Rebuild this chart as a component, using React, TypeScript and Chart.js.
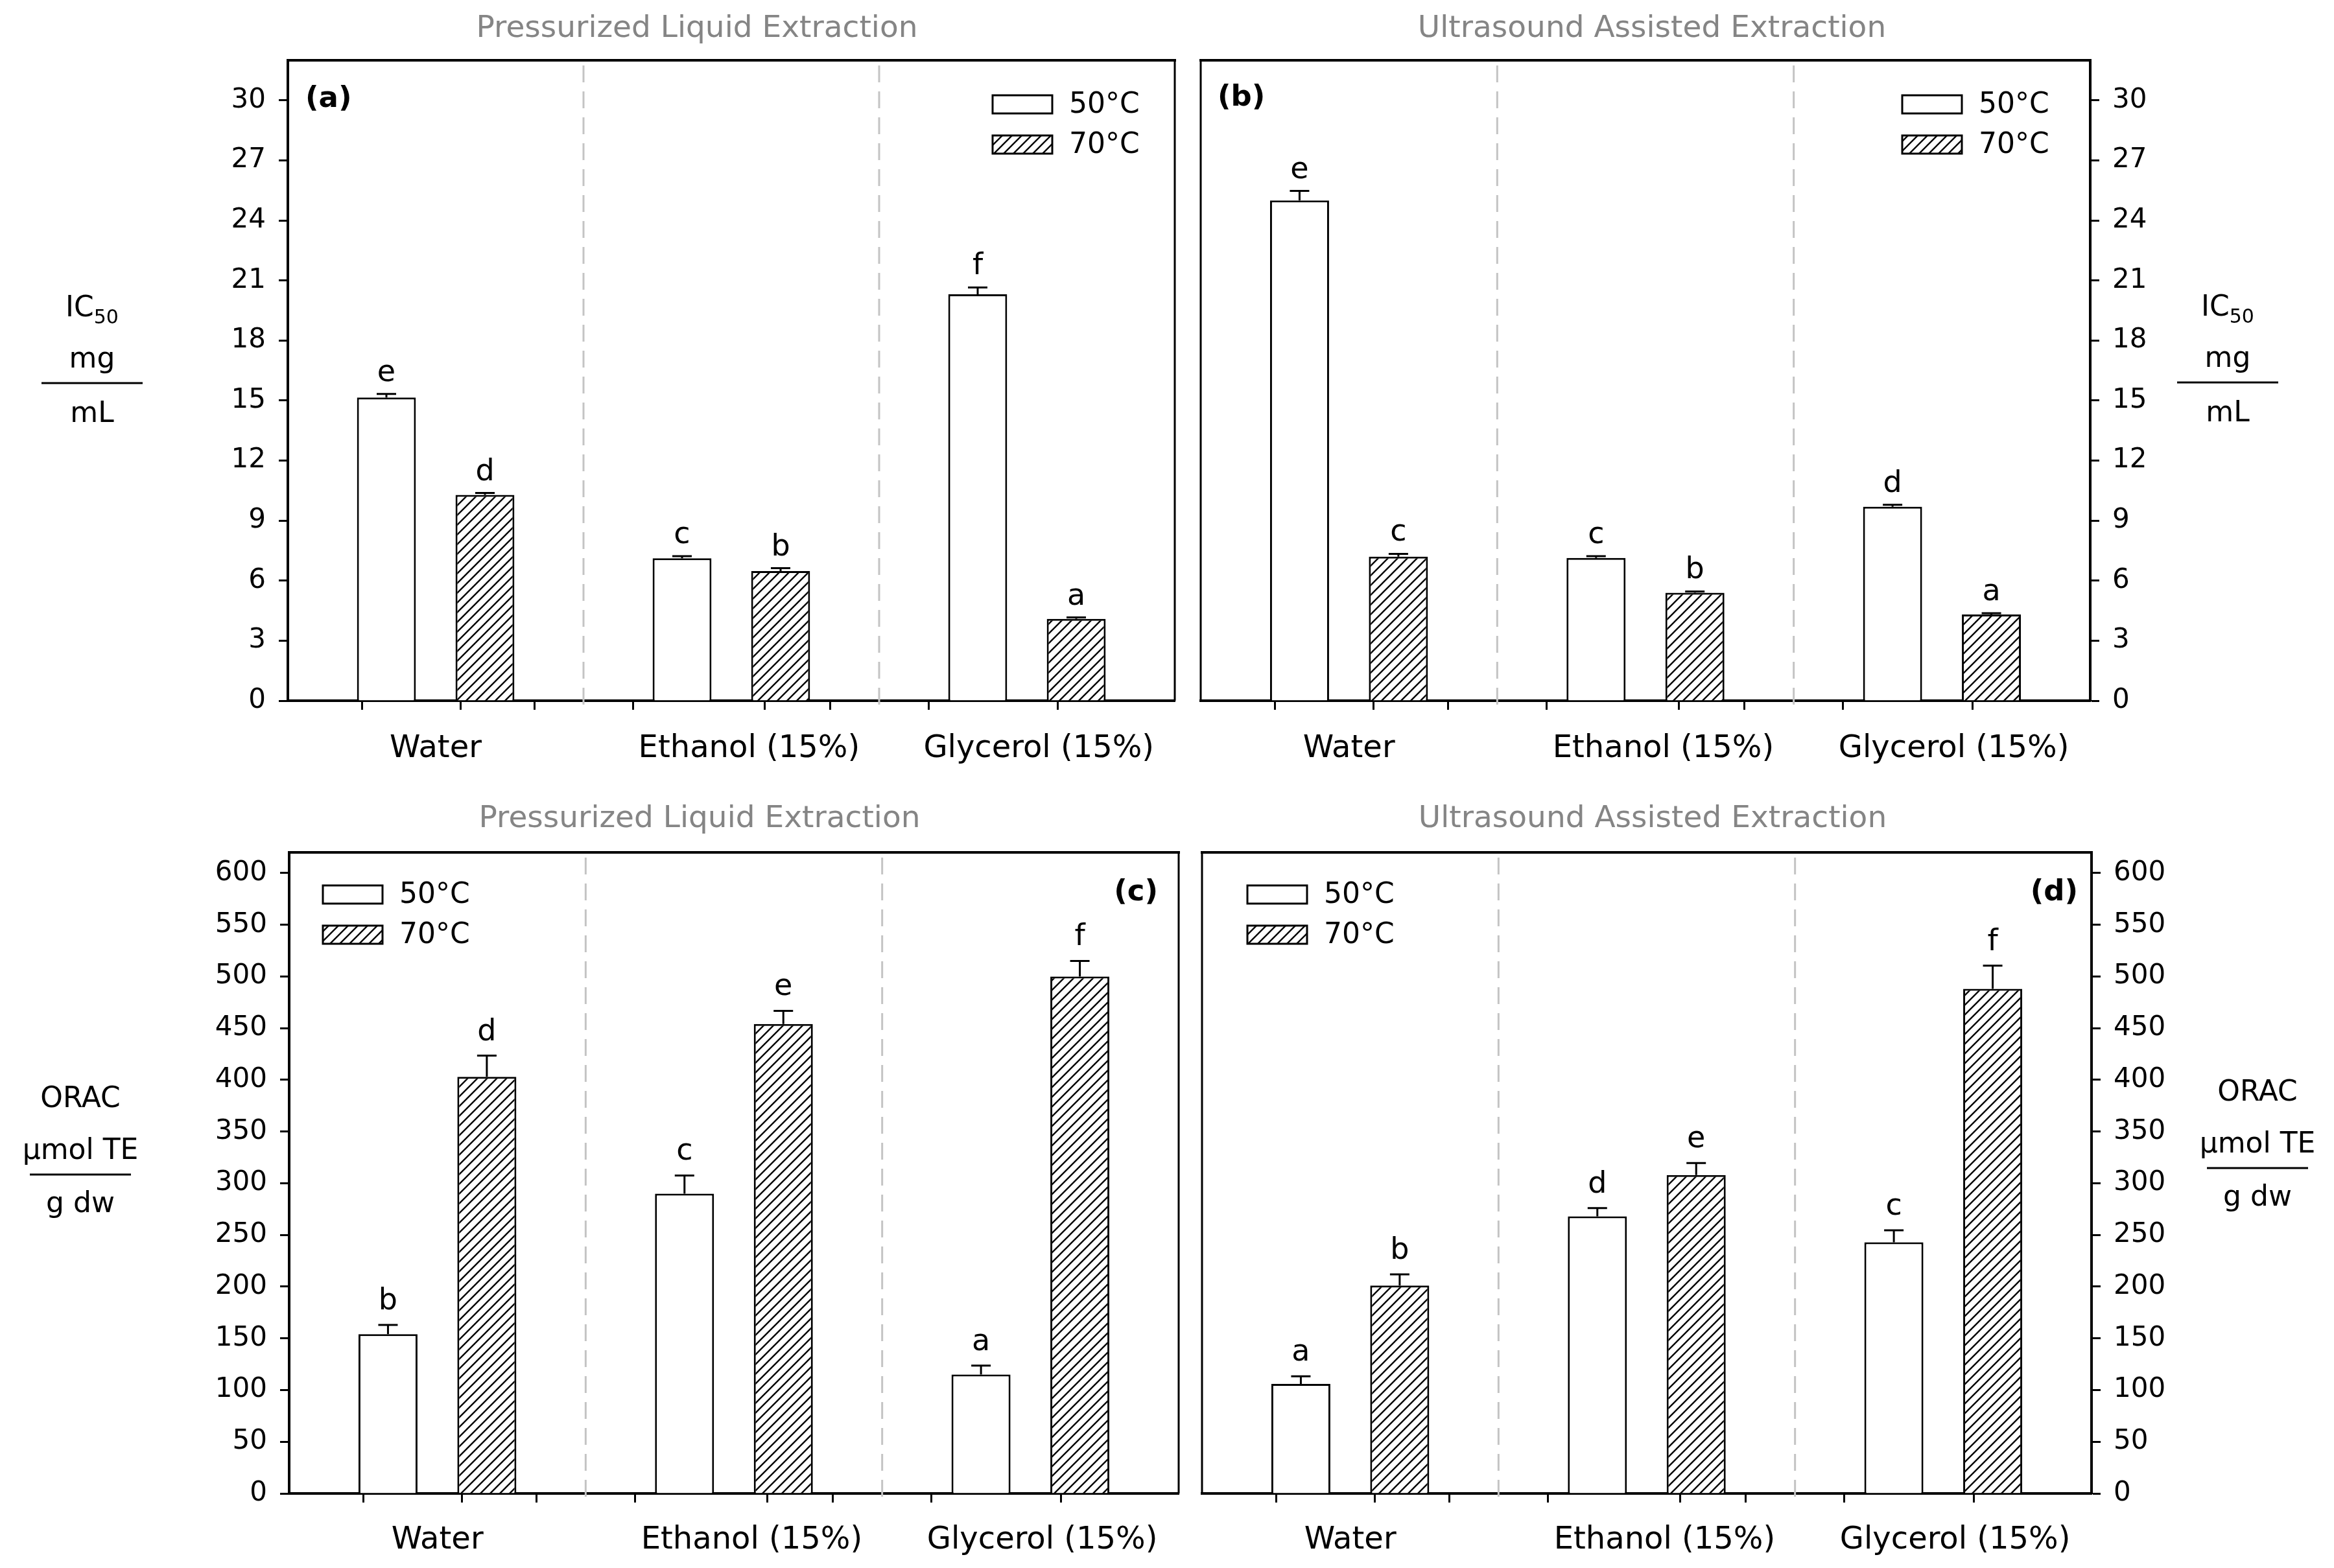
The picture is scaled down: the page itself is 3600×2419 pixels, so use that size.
import React, { useEffect, useRef } from 'react';
import { Chart, registerables } from 'chart.js';

Chart.register(...registerables);

// ---------------- data ----------------
const CATEGORIES = ['Water', 'Ethanol (15%)', 'Glycerol (15%)'];
const SERIES = ['50°C', '70°C'];

const IC50_TICKS = [0, 3, 6, 9, 12, 15, 18, 21, 24, 27, 30];
const ORAC_TICKS = [0, 50, 100, 150, 200, 250, 300, 350, 400, 450, 500, 550, 600];

// (a) IC50, Pressurized Liquid Extraction
const PLE_IC50_50 = [15.15, 7.12, 20.31];
const PLE_IC50_70 = [10.28, 6.48, 4.09];
const PLE_IC50_50_SD = [0.18, 0.1, 0.34];
const PLE_IC50_70_SD = [0.1, 0.14, 0.07];
const PLE_IC50_50_LET = ['e', 'c', 'f'];
const PLE_IC50_70_LET = ['d', 'b', 'a'];

// (b) IC50, Ultrasound Assisted Extraction
const UAE_IC50_50 = [25.0, 7.13, 9.69];
const UAE_IC50_70 = [7.2, 5.39, 4.31];
const UAE_IC50_50_SD = [0.47, 0.09, 0.1];
const UAE_IC50_70_SD = [0.14, 0.07, 0.06];
const UAE_IC50_50_LET = ['e', 'c', 'd'];
const UAE_IC50_70_LET = ['c', 'b', 'a'];

// (c) ORAC, Pressurized Liquid Extraction
const PLE_ORAC_50 = [154, 290, 115];
const PLE_ORAC_70 = [403, 454, 500];
const PLE_ORAC_50_SD = [9, 17.5, 8.6];
const PLE_ORAC_70_SD = [20.4, 12.8, 15];
const PLE_ORAC_50_LET = ['b', 'c', 'a'];
const PLE_ORAC_70_LET = ['d', 'e', 'f'];

// (d) ORAC, Ultrasound Assisted Extraction
const UAE_ORAC_50 = [106, 268, 243];
const UAE_ORAC_70 = [201, 308, 488];
const UAE_ORAC_50_SD = [7.3, 8, 11.5];
const UAE_ORAC_70_SD = [10.9, 11.5, 22.4];
const UAE_ORAC_50_LET = ['a', 'd', 'c'];
const UAE_ORAC_70_LET = ['b', 'e', 'f'];

// ---------------- layout ----------------
const FONT = '"DejaVu Sans", Verdana, sans-serif';
const f = (size: number, bold = false) => `${bold ? 'bold ' : ''}${size}px ${FONT}`;

type Panel = {
  key: string;
  left: number; top: number; w: number; h: number;
  area: { l: number; r: number; t: number; b: number };
  side: 'left' | 'right';
  yMax: number;
  yTicks: number[];
  v50: number[]; v70: number[]; sd50: number[]; sd70: number[];
  l50: string[]; l70: string[];
  title: string; titleX: number; titleY: number;
  tag: string; tagX: number; tagY: number; tagAlign: 'left' | 'right';
  legendX: number; legendY: number;
  yTitle: 'ic50' | 'orac'; yTitleX: number; yTitleY: number;
  letterGap: number;
  labelPad: number;
};

const PANELS: Panel[] = [
  {
    key: 'a', left: 0, top: 0, w: 1832, h: 1215,
    area: { l: 444, r: 1812, t: 93, b: 1081 }, side: 'left',
    yMax: 32, yTicks: IC50_TICKS,
    v50: PLE_IC50_50, v70: PLE_IC50_70, sd50: PLE_IC50_50_SD, sd70: PLE_IC50_70_SD,
    l50: PLE_IC50_50_LET, l70: PLE_IC50_70_LET,
    title: 'Pressurized Liquid Extraction', titleX: 1075, titleY: 45,
    tag: '(a)', tagX: 471, tagY: 153, tagAlign: 'left',
    legendX: 1531, legendY: 147,
    yTitle: 'ic50', yTitleX: 142, yTitleY: 591,
    letterGap: 20,
    labelPad: 32,
  },
  {
    key: 'b', left: 1832, top: 0, w: 1768, h: 1215,
    area: { l: 1852, r: 3224, t: 93, b: 1081 }, side: 'right',
    yMax: 32, yTicks: IC50_TICKS,
    v50: UAE_IC50_50, v70: UAE_IC50_70, sd50: UAE_IC50_50_SD, sd70: UAE_IC50_70_SD,
    l50: UAE_IC50_50_LET, l70: UAE_IC50_70_LET,
    title: 'Ultrasound Assisted Extraction', titleX: 2548, titleY: 45,
    tag: '(b)', tagX: 1878, tagY: 151, tagAlign: 'left',
    legendX: 2934, legendY: 147,
    yTitle: 'ic50', yTitleX: 3436, yTitleY: 590,
    letterGap: 20,
    labelPad: 32,
  },
  {
    key: 'c', left: 0, top: 1215, w: 1836, h: 1204,
    area: { l: 446, r: 1818, t: 1315, b: 2304 }, side: 'left',
    yMax: 620, yTicks: ORAC_TICKS,
    v50: PLE_ORAC_50, v70: PLE_ORAC_70, sd50: PLE_ORAC_50_SD, sd70: PLE_ORAC_70_SD,
    l50: PLE_ORAC_50_LET, l70: PLE_ORAC_70_LET,
    title: 'Pressurized Liquid Extraction', titleX: 1079, titleY: 1264,
    tag: '(c)', tagX: 1786, tagY: 1377, tagAlign: 'right',
    legendX: 498, legendY: 1366,
    yTitle: 'orac', yTitleX: 124, yTitleY: 1812,
    letterGap: 24,
    labelPad: 30,
  },
  {
    key: 'd', left: 1836, top: 1215, w: 1764, h: 1204,
    area: { l: 1854, r: 3226, t: 1315, b: 2304 }, side: 'right',
    yMax: 620, yTicks: ORAC_TICKS,
    v50: UAE_ORAC_50, v70: UAE_ORAC_70, sd50: UAE_ORAC_50_SD, sd70: UAE_ORAC_70_SD,
    l50: UAE_ORAC_50_LET, l70: UAE_ORAC_70_LET,
    title: 'Ultrasound Assisted Extraction', titleX: 2549, titleY: 1264,
    tag: '(d)', tagX: 3205, tagY: 1377, tagAlign: 'right',
    legendX: 1924, legendY: 1366,
    yTitle: 'orac', yTitleX: 3482, yTitleY: 1802,
    letterGap: 24,
    labelPad: 30,
  },
];

// x positions on the linear axis: group i occupies slots 3i+1 (50°C) and 3i+2 (70°C),
// separators at 3 and 6, axis from 0 to 9
const slot = (group: number, series: number) => group * 3 + 1 + series;
const SEPARATORS = CATEGORIES.slice(1).map((_, i) => (i + 1) * 3);
// category label anchors on the x axis (as placed in the original figure)
const LABEL_POS = [1.5, 4.68, 7.62];

function makeHatch(): CanvasPattern | string {
  const s = 15;
  const c = document.createElement('canvas');
  c.width = s; c.height = s;
  const g = c.getContext('2d');
  if (!g) return '#fff';
  g.fillStyle = '#fff';
  g.fillRect(0, 0, s, s);
  g.strokeStyle = '#000';
  g.lineWidth = 2.4;
  g.beginPath();
  g.moveTo(-2, s + 2); g.lineTo(s + 2, -2);
  g.moveTo(-s / 2 - 2, s / 2 + 2); g.lineTo(s / 2 + 2, -s / 2 - 2);
  g.moveTo(s / 2 - 2, s * 1.5 + 2); g.lineTo(s * 1.5 + 2, s / 2 - 2);
  g.stroke();
  const p = g.createPattern(c, 'repeat');
  return p || '#000';
}

function drawYTitle(ctx: CanvasRenderingContext2D, p: Panel) {
  const cx = p.yTitleX - p.left;
  const ly = p.yTitleY - p.top;
  ctx.save();
  ctx.fillStyle = '#000';
  ctx.textBaseline = 'alphabetic';
  if (p.yTitle === 'ic50') {
    ctx.font = f(44);
    const wIC = ctx.measureText('IC').width;
    ctx.font = f(30);
    const w50 = ctx.measureText('50').width;
    const x0 = cx - (wIC + w50) / 2;
    ctx.textAlign = 'left';
    ctx.font = f(44);
    ctx.fillText('IC', x0, ly - 103);
    ctx.font = f(30);
    ctx.fillText('50', x0 + wIC, ly - 92);
    ctx.textAlign = 'center';
    ctx.font = f(44);
    ctx.fillText('mg', cx, ly - 24);
    ctx.fillText('mL', cx, ly + 60);
  } else {
    ctx.textAlign = 'center';
    ctx.font = f(44);
    ctx.fillText('ORAC', cx, ly - 104);
    ctx.fillText('µmol TE', cx, ly - 24);
    ctx.fillText('g dw', cx, ly + 58);
  }
  ctx.strokeStyle = '#000';
  ctx.lineWidth = 3;
  ctx.beginPath();
  ctx.moveTo(cx - 78, ly);
  ctx.lineTo(cx + 78, ly);
  ctx.stroke();
  ctx.restore();
}

function buildChart(canvas: HTMLCanvasElement, p: Panel) {
  const hatch = makeHatch();
  const sd = [p.sd50, p.sd70];
  const letters = [p.l50, p.l70];
  const values = [p.v50, p.v70];

  const overlay = {
    id: 'overlay' + p.key,
    beforeDatasetsDraw(chart: any) {
      const { ctx, chartArea } = chart;
      const xs = chart.scales.x;
      ctx.save();
      ctx.strokeStyle = '#c4c4c4';
      ctx.lineWidth = 3;
      ctx.setLineDash([26, 14]);
      SEPARATORS.forEach((v) => {
        const x = xs.getPixelForValue(v);
        ctx.beginPath();
        ctx.moveTo(x, chartArea.top + 8);
        ctx.lineTo(x, chartArea.bottom + 14);
        ctx.stroke();
      });
      ctx.restore();
    },
    afterDatasetsDraw(chart: any) {
      const { ctx } = chart;
      const ys = chart.scales.y;
      ctx.save();
      ctx.strokeStyle = '#000';
      ctx.fillStyle = '#000';
      ctx.lineWidth = 3;
      ctx.font = f(46);
      ctx.textAlign = 'center';
      ctx.textBaseline = 'alphabetic';
      [0, 1].forEach((di) => {
        const meta = chart.getDatasetMeta(di);
        meta.data.forEach((bar: any, i: number) => {
          const top = ys.getPixelForValue(values[di][i] + sd[di][i]);
          ctx.beginPath();
          ctx.moveTo(bar.x, bar.y);
          ctx.lineTo(bar.x, top);
          ctx.moveTo(bar.x - 15, top);
          ctx.lineTo(bar.x + 15, top);
          ctx.stroke();
          ctx.fillText(letters[di][i], bar.x, top - p.letterGap);
        });
      });
      ctx.restore();
    },
    afterDraw(chart: any) {
      const { ctx, chartArea } = chart;
      ctx.save();
      // frame: top edge and opposite side
      ctx.strokeStyle = '#000';
      ctx.lineWidth = 4;
      ctx.beginPath();
      ctx.moveTo(chartArea.left - 2, chartArea.top);
      ctx.lineTo(chartArea.right + 2, chartArea.top);
      ctx.stroke();
      ctx.lineWidth = 3;
      const sx = p.side === 'left' ? chartArea.right : chartArea.left;
      ctx.beginPath();
      ctx.moveTo(sx, chartArea.top);
      ctx.lineTo(sx, chartArea.bottom);
      ctx.stroke();

      // legend
      const lx = p.legendX - p.left;
      const ly = p.legendY - p.top;
      const bw = 92, bh = 28, gap = 62;
      [0, 1].forEach((i) => {
        const y = ly + i * gap;
        ctx.fillStyle = i === 0 ? '#fff' : (hatch as any);
        ctx.fillRect(lx, y, bw, bh);
        ctx.lineWidth = 3;
        ctx.strokeStyle = '#000';
        ctx.strokeRect(lx, y, bw, bh);
        ctx.fillStyle = '#000';
        ctx.font = f(44);
        ctx.textAlign = 'left';
        ctx.textBaseline = 'middle';
        ctx.fillText(SERIES[i], lx + bw + 26, y + bh / 2 + 2);
      });

      // panel tag
      ctx.fillStyle = '#000';
      ctx.font = f(45, true);
      ctx.textAlign = p.tagAlign;
      ctx.textBaseline = 'middle';
      ctx.fillText(p.tag, p.tagX - p.left, p.tagY - p.top);

      // panel title
      ctx.fillStyle = '#858585';
      ctx.font = f(47);
      ctx.textAlign = 'center';
      ctx.textBaseline = 'middle';
      ctx.fillText(p.title, p.titleX - p.left, p.titleY - p.top);
      ctx.restore();

      drawYTitle(ctx, p);
    },
  };

  const yWidth = p.side === 'left' ? p.area.l - p.left : p.left + p.w - p.area.r;
  const xHeight = p.top + p.h - p.area.b;

  const xTicks = [...LABEL_POS];
  for (let v = 1; v <= 8; v++) xTicks.push(v);
  xTicks.sort((a, b) => a - b);

  // ruler: smallest gap between any two x ticks, in slots
  let minGap = Infinity;
  for (let i = 1; i < xTicks.length; i++) minGap = Math.min(minGap, xTicks[i] - xTicks[i - 1]);
  const barFrac = 0.597 / minGap;

  return new Chart(canvas, {
    type: 'bar',
    data: {
      datasets: [0, 1].map((s) => ({
        label: SERIES[s],
        data: values[s].map((v, i) => ({ x: slot(i, s), y: v })),
        backgroundColor: s === 0 ? '#ffffff' : (hatch as any),
        borderColor: '#000000',
        borderWidth: 3,
        borderSkipped: 'start',
        grouped: false,
        barPercentage: barFrac,
        categoryPercentage: 1,
      })),
    },
    options: {
      animation: false,
      responsive: false,
      devicePixelRatio: 1,
      events: [],
      layout: {
        padding: {
          top: p.area.t - p.top,
          left: p.side === 'left' ? 0 : p.area.l - p.left,
          right: p.side === 'left' ? p.left + p.w - p.area.r : 0,
          bottom: 0,
        },
      },
      plugins: {
        legend: { display: false },
        tooltip: { enabled: false },
        title: { display: false },
      },
      scales: {
        x: {
          type: 'linear',
          min: 0,
          max: 9,
          offset: false,
          afterBuildTicks: (scale: any) => {
            scale.ticks = xTicks.map((v) => ({ value: v }));
          },
          afterFit: (scale: any) => {
            scale.height = xHeight;
          },
          ticks: {
            autoSkip: false,
            maxRotation: 0,
            minRotation: 0,
            padding: p.labelPad,
            color: '#000',
            font: { family: FONT, size: 48 },
            callback: (v: any) => {
              const idx = LABEL_POS.indexOf(Number(v));
              return idx >= 0 ? CATEGORIES[idx] : '';
            },
          },
          grid: {
            display: true,
            drawOnChartArea: false,
            drawTicks: true,
            tickLength: 14,
            tickWidth: 3,
            tickColor: (ctx: any) =>
              ctx.tick && Number.isInteger(ctx.tick.value) ? '#000' : 'rgba(0,0,0,0)',
          },
          border: { display: true, color: '#000', width: 4 },
        },
        y: {
          type: 'linear',
          position: p.side,
          min: 0,
          max: p.yMax,
          afterBuildTicks: (scale: any) => {
            scale.ticks = p.yTicks.map((v) => ({ value: v }));
          },
          afterFit: (scale: any) => {
            scale.width = yWidth;
          },
          ticks: {
            padding: 20,
            color: '#000',
            font: { family: FONT, size: 42 },
            callback: (v: any) => String(v),
          },
          grid: {
            display: true,
            drawOnChartArea: false,
            drawTicks: true,
            tickLength: 14,
            tickWidth: 3,
            tickColor: '#000',
          },
          border: { display: true, color: '#000', width: 4 },
        },
      },
    },
    plugins: [overlay],
  } as any);
}

function PanelCanvas({ p }: { p: Panel }) {
  const ref = useRef<HTMLCanvasElement | null>(null);
  useEffect(() => {
    if (!ref.current) return;
    const chart = buildChart(ref.current, p);
    return () => chart.destroy();
  }, [p]);
  return (
    <canvas
      ref={ref}
      width={p.w}
      height={p.h}
      style={{ position: 'absolute', left: p.left, top: p.top, width: p.w, height: p.h }}
    />
  );
}

export default function App() {
  return (
    <div
      style={{
        position: 'absolute',
        left: 0,
        top: 0,
        width: 3600,
        height: 2419,
        background: '#fff',
        overflow: 'hidden',
      }}
    >
      {PANELS.map((p) => (
        <PanelCanvas key={p.key} p={p} />
      ))}
    </div>
  );
}
